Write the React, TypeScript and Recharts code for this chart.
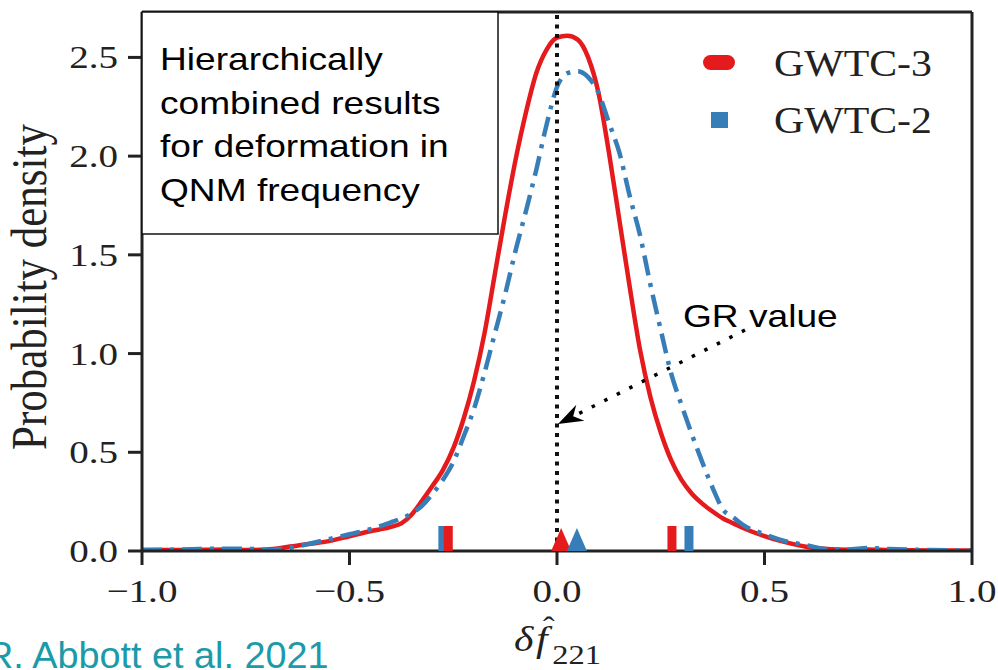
import React from "react";
import { ComposedChart, Line, Scatter, XAxis, YAxis, ReferenceLine } from "recharts";

// posterior densities of the deformation parameter
const xs = [
  -1.0, -0.9, -0.8, -0.75, -0.7, -0.65, -0.6, -0.55, -0.5, -0.45, -0.4, -0.375, -0.35, -0.325,
  -0.3, -0.275, -0.25, -0.225, -0.2, -0.175, -0.15, -0.125, -0.1, -0.075, -0.05, -0.025, 0,
  0.025, 0.05, 0.075, 0.1, 0.125, 0.15, 0.175, 0.2, 0.225, 0.25, 0.275, 0.3, 0.325, 0.35,
  0.375, 0.4, 0.425, 0.45, 0.5, 0.55, 0.6, 0.65, 0.7, 0.75, 0.8, 0.9, 1.0,
];
const gwtc3 = [
  0.005, 0.005, 0.008, 0.005, 0.008, 0.02, 0.035, 0.05, 0.075, 0.1, 0.122, 0.14, 0.185, 0.255,
  0.33, 0.41, 0.52, 0.67, 0.86, 1.1, 1.4, 1.7, 1.98, 2.22, 2.42, 2.54, 2.6,
  2.61, 2.59, 2.5, 2.32, 2.02, 1.68, 1.34, 1.02, 0.78, 0.6, 0.46, 0.36, 0.29, 0.24,
  0.2, 0.165, 0.14, 0.115, 0.075, 0.045, 0.022, 0.01, 0.006, 0.008, 0.005, 0.003, 0.003,
];
const gwtc2 = [
  0.005, 0.008, 0.012, 0.012, 0.005, 0.015, 0.035, 0.06, 0.085, 0.11, 0.145, 0.165, 0.19, 0.23,
  0.29, 0.36, 0.45, 0.58, 0.72, 0.9, 1.1, 1.3, 1.52, 1.72, 1.93, 2.16, 2.35,
  2.42, 2.43, 2.4, 2.32, 2.17, 2.02, 1.8, 1.6, 1.35, 1.12, 0.9, 0.74, 0.59, 0.45,
  0.32, 0.21, 0.17, 0.13, 0.085, 0.05, 0.03, 0.01, 0.008, 0.015, 0.01, 0.005, 0.002,
];
const gwtc3Median = [0.01];
const gwtc2Median = [0.048];
const gwtc3Bounds = [-0.262, 0.277];
const gwtc2Bounds = [-0.275, 0.318];
const xTicks = [-1, -0.5, 0, 0.5, 1];
const yTicks = [0, 0.5, 1, 1.5, 2, 2.5];
const yMax = 2.73;
const grValue = 0;

const boxLines = ["Hierarchically", "combined results", "for deformation in", "QNM frequency"];

const RED = "#e41a1c";
const BLUE = "#377eb8";
const INK = "#222";
const SERIF = "'Liberation Serif', 'DejaVu Serif', serif";
const SANS = "'Liberation Sans', Arial, sans-serif";
const SX = 1.16; // source figure is stretched sideways

const data = xs.map((x, i) => ({ x, gwtc3: gwtc3[i], gwtc2: gwtc2[i] }));
const pts = (arr: number[]) => arr.map((x) => ({ x, y: 0 }));

const fmt = (v: number) => (v < 0 ? "\u2212" : "") + Math.abs(v).toFixed(1);

const XTick = ({ x, y, payload }: any) => (
  <text
    transform={`translate(${x},${y + 35}) scale(1.22,1)`}
    textAnchor="middle"
    fontFamily={SERIF}
    fontSize={32}
    fill={INK}
  >
    {fmt(payload.value)}
  </text>
);

const YTick = ({ x, y, payload }: any) => (
  <text
    transform={`translate(${x - 8},${y + 11}) scale(1.22,1)`}
    textAnchor="end"
    fontFamily={SERIF}
    fontSize={32}
    fill={INK}
  >
    {fmt(payload.value)}
  </text>
);

const tri = (color: string) => (p: any) => (
  <polygon points={`${p.cx - 10},${p.cy} ${p.cx + 10},${p.cy} ${p.cx},${p.cy - 23}`} fill={color} />
);
const bar = (color: string) => (p: any) => (
  <rect x={p.cx - 4.5} y={p.cy - 25} width={9} height={25} fill={color} />
);

function Overlay() {
  // GR arrow
  const from = [745, 330];
  const tip = [558, 424];
  const dx = tip[0] - from[0];
  const dy = tip[1] - from[1];
  const len = Math.hypot(dx, dy);
  const ux = dx / len;
  const uy = dy / len;
  const bx = tip[0] - 25 * ux;
  const by = tip[1] - 25 * uy;
  const head = [
    [tip[0], tip[1]],
    [bx - 9 * uy, by + 9 * ux],
    [tip[0] - 17 * ux, tip[1] - 17 * uy],
    [bx + 9 * uy, by - 9 * ux],
  ]
    .map((q) => q.join(","))
    .join(" ");

  return (
    <svg
      width={998}
      height={670}
      style={{ position: "absolute", left: 0, top: 0, pointerEvents: "none" }}
    >
      <rect x={142} y={12} width={356} height={222} fill="#fff" stroke="#111" strokeWidth={1.5} />
      {boxLines.map((t, i) => (
        <text
          key={t}
          transform={`translate(160,${70 + i * 43.5}) scale(${SX},1)`}
          fontFamily={SANS}
          fontSize={32}
          fill="#000"
        >
          {t}
        </text>
      ))}

      <rect x={703} y={55} width={32} height={15} rx={7.5} fill={RED} />
      <rect x={711} y={112} width={17} height={16} fill={BLUE} />
      <text transform={`translate(774,76) scale(1.1,1)`} fontFamily={SERIF} fontSize={38} fill={INK}>
        GWTC-3
      </text>
      <text transform={`translate(774,133) scale(1.1,1)`} fontFamily={SERIF} fontSize={38} fill={INK}>
        GWTC-2
      </text>

      <text transform={`translate(683,327) scale(${SX},1)`} fontFamily={SANS} fontSize={32} fill="#000">
        GR value
      </text>
      <line
        x1={from[0]}
        y1={from[1]}
        x2={tip[0] - 17 * ux}
        y2={tip[1] - 17 * uy}
        stroke="#000"
        strokeWidth={3.5}
        strokeDasharray="3.5 10.5"
      />
      <polygon points={head} fill="#000" />

      <text
        transform={`translate(46,287) scale(1.16,1) rotate(-90)`}
        textAnchor="middle"
        fontFamily={SERIF}
        fontSize={43}
        fill={INK}
      >
        Probability density
      </text>

      <text transform="translate(514,651) scale(1.16,1)" fontFamily={SERIF} fill={INK}>
        <tspan x={0} y={0} fontSize={36} fontStyle="italic">δ</tspan>
        <tspan x={19} y={0} fontSize={36} fontStyle="italic">f</tspan>
        <tspan x={25} y={-14} fontSize={30}>ˆ</tspan>
        <tspan x={33} y={13} fontSize={28}>221</tspan>
      </text>

      <text transform={`translate(-14,668) scale(1.05,1)`} fontFamily={SANS} fontSize={36} fill="#1b9aaa">
        R. Abbott et al. 2021
      </text>
    </svg>
  );
}

export default function App() {
  return (
    <div style={{ position: "absolute", left: 0, top: 0, width: 998, height: 670, background: "#fff" }}>
      <ComposedChart
        width={998}
        height={670}
        data={data}
        margin={{ top: 12, right: 26, bottom: 0, left: 0 }}
      >
        <XAxis
          type="number"
          dataKey="x"
          domain={[-1, 1]}
          ticks={xTicks}
          allowDataOverflow
          height={119}
          tickSize={14}
          axisLine={{ stroke: INK, strokeWidth: 3 }}
          tickLine={{ stroke: INK, strokeWidth: 3 }}
          tick={<XTick />}
          interval={0}
        />
        <YAxis
          type="number"
          dataKey="y"
          domain={[0, yMax]}
          ticks={yTicks}
          allowDataOverflow
          width={142}
          tickSize={14}
          axisLine={{ stroke: INK, strokeWidth: 3 }}
          tickLine={{ stroke: INK, strokeWidth: 3 }}
          tick={<YTick />}
          interval={0}
        />
        <Line
          dataKey="gwtc3"
          type="monotone"
          stroke={RED}
          strokeWidth={4.5}
          dot={false}
          isAnimationActive={false}
        />
        <Line
          dataKey="gwtc2"
          type="monotone"
          stroke={BLUE}
          strokeWidth={4.5}
          strokeDasharray="20 8 4 8"
          dot={false}
          isAnimationActive={false}
        />
        <Scatter data={pts(gwtc2Bounds)} dataKey="y" shape={bar(BLUE)} isAnimationActive={false} />
        <Scatter data={pts(gwtc3Bounds)} dataKey="y" shape={bar(RED)} isAnimationActive={false} />
        <Scatter data={pts(gwtc3Median)} dataKey="y" shape={tri(RED)} isAnimationActive={false} />
        <Scatter data={pts(gwtc2Median)} dataKey="y" shape={tri(BLUE)} isAnimationActive={false} />
        <ReferenceLine x={grValue} stroke="#111" strokeWidth={4} strokeDasharray="4 5.5" />
        <ReferenceLine y={yMax} stroke={INK} strokeWidth={3} />
        <ReferenceLine x={1} stroke={INK} strokeWidth={3} />
      </ComposedChart>
      <Overlay />
    </div>
  );
}
